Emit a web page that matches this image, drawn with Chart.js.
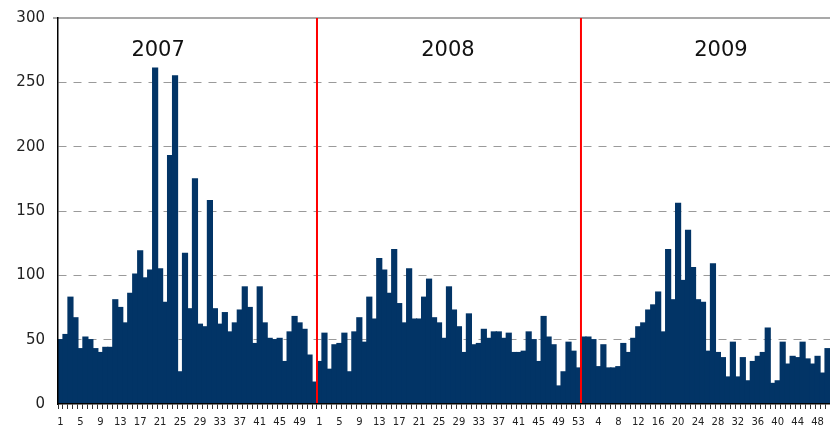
<!DOCTYPE html>
<html>
<head>
<meta charset="utf-8">
<script src="https://cdn.jsdelivr.net/npm/chart.js@4.4.1/dist/chart.umd.min.js"></script>
<style>
html,body{margin:0;padding:0;background:#fff;overflow:hidden}
#wrap{width:830px;height:429px;position:relative}
</style>
</head>
<body>
<div id="wrap"><canvas id="c"></canvas></div>
<script>
// ---- data ----
const years = ['2007', '2008', '2009'];
const values2007 = [50, 54, 83, 67, 43, 52, 50, 43, 40, 44, 44, 81, 75, 63, 86, 101, 119, 98, 104, 261,
  105, 79, 193, 255, 25, 117, 74, 175, 62, 60, 158, 74, 62, 71, 56, 63, 73, 91, 75, 47,
  91, 63, 51, 50, 51, 33, 56, 68, 63, 58, 38, 17];
const values2008 = [33, 55, 27, 46, 47, 55, 25, 56, 67, 48, 83, 66, 113, 104, 86, 120, 78, 63, 105, 66,
  66, 83, 97, 67, 63, 51, 91, 73, 60, 40, 70, 46, 47, 58, 51, 56, 56, 51, 55, 40,
  40, 41, 56, 50, 33, 68, 52, 46, 14, 25, 48, 41, 28];
const values2009 = [52, 52, 50, 29, 46, 28, 28, 29, 47, 40, 51, 60, 63, 73, 77, 87, 56, 120, 81, 156,
  96, 135, 106, 81, 79, 41, 109, 40, 36, 21, 48, 21, 36, 18, 33, 37, 40, 59, 16, 18,
  48, 31, 37, 36, 48, 35, 31, 37, 24, 43];
const yTickValues = [0, 50, 100, 150, 200, 250, 300];
const yearLabelWeek = [20.6, 26.8, 28.6];

const yearSeries = [values2007, values2008, values2009];
const yearLengths = yearSeries.map(s => s.length);
const categories = [].concat(...yearSeries.map(s => s.map((_, i) => String(i + 1))));
const allValues = [].concat(...yearSeries);

const FONT = '"DejaVu Sans", "Liberation Sans", sans-serif';

const overlay = {
  id: 'overlay',
  afterDatasetsDraw(chart) {
    const {ctx, chartArea: a, scales: {x, y}} = chart;
    const step = x.getPixelForValue(1) - x.getPixelForValue(0);
    ctx.save();
    const yt = y.getPixelForValue(yTickValues[yTickValues.length - 1]);
    ctx.strokeStyle = '#8c8c8c';
    ctx.lineWidth = 1.5;
    ctx.beginPath(); ctx.moveTo(a.left - 5, yt); ctx.lineTo(a.right, yt); ctx.stroke();
    ctx.strokeStyle = '#ff0000';
    ctx.lineWidth = 2;
    let start = 0;
    for (let k = 0; k < yearLengths.length - 1; k++) {
      start += yearLengths[k];
      const px = x.getPixelForValue(start) - step / 2;
      ctx.beginPath(); ctx.moveTo(px, a.top); ctx.lineTo(px, a.bottom); ctx.stroke();
    }
    ctx.fillStyle = '#111';
    ctx.font = '21px ' + FONT;
    ctx.textAlign = 'center';
    ctx.textBaseline = 'middle';
    let off = 0;
    years.forEach((yr, k) => {
      const idx = off + yearLabelWeek[k] - 1;
      const px = x.getPixelForValue(0) + idx * step;
      ctx.fillText(yr, px, y.getPixelForValue(275));
      off += yearLengths[k];
    });
    ctx.restore();
  }
};

new Chart(document.getElementById('c'), {
  type: 'bar',
  data: {
    labels: categories,
    datasets: [{
      data: allValues,
      backgroundColor: '#023466',
      borderWidth: 0,
      inflateAmount: 0.6,
      categoryPercentage: 1.0,
      barPercentage: 1.0
    }]
  },
  options: {
    responsive: true,
    maintainAspectRatio: false,
    animation: false,
    devicePixelRatio: 1,
    layout: {padding: {top: 18, right: 0, bottom: 0, left: 0}},
    plugins: {legend: {display: false}, tooltip: {enabled: false}},
    scales: {
      x: {
        offset: true,
        grid: {display: true, drawOnChartArea: false, drawTicks: true, tickLength: 5,
               color: '#000', tickColor: '#333', offset: true, lineWidth: 1},
        border: {display: true, color: '#000', width: 1.5, z: 1},
        ticks: {
          autoSkip: false, maxRotation: 0, minRotation: 0, padding: 7,
          font: {family: FONT, size: 10}, color: '#222',
          callback(v, i) { return i % 4 === 0 ? this.getLabelForValue(v) : ''; }
        },
        afterFit(s) { s.height = 25; s.paddingLeft = 0; s.paddingRight = 0; }
      },
      y: {
        min: 0, max: 300,
        afterBuildTicks(s) { s.ticks = yTickValues.map(v => ({value: v})); },
        ticks: {padding: 13, font: {family: FONT, size: 15}, color: '#222'},
        grid: {drawTicks: false, lineWidth: 1,
               color(c) { return (c.tick && (c.tick.value === 0 || c.tick.value === 300)) ? 'rgba(0,0,0,0)' : '#9a9a9a'; }},
        border: {display: true, color: '#000', width: 1.5, dash: [8, 7], z: 1},
        afterFit(s) { s.width = 58; s.paddingTop = 0; s.paddingBottom = 0; }
      }
    }
  },
  plugins: [overlay]
});
</script>
</body>
</html>
